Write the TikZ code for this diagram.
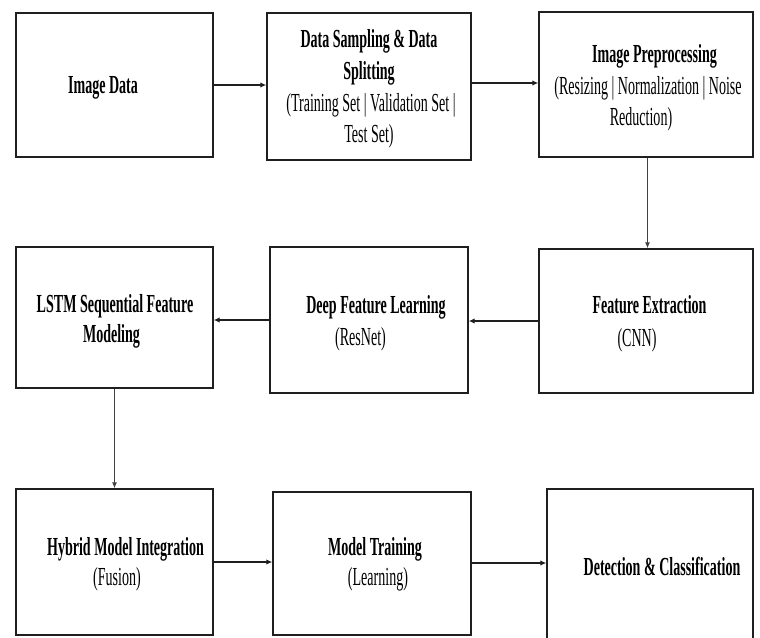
\documentclass[tikz,border=0pt]{standalone}
\usepackage{fontspec}
\setmainfont{Liberation Serif}[FakeStretch=0.54]
\usetikzlibrary{arrows.meta}
\begin{document}
\begin{tikzpicture}[x=1pt,y=-1pt,
  box/.style={draw=black!88, line width=1.4pt, rectangle, inner sep=0pt},
  ttl/.style={font=\bfseries\fontsize{26}{31}\selectfont, anchor=base, inner sep=0pt, text=black},
  sub/.style={font=\fontsize{26}{31}\selectfont, anchor=base, inner sep=0pt, text=black},
  arr/.style={-{Latex[length=6pt,width=5.5pt]}, line width=2pt, draw=black!88},
  varr/.style={-{Latex[length=6pt,width=5pt]}, line width=1pt, draw=black!75}]
\useasboundingbox (0,0) rectangle (760,637);
% boxes
\node[box, minimum width=197pt, minimum height=144pt] (b1) at (114.5,85) {};
\node[box, minimum width=204pt, minimum height=147pt] (b2) at (369,86.5) {};
\node[box, minimum width=214pt, minimum height=145pt] (b3) at (646,84.5) {};
\node[box, minimum width=214pt, minimum height=144pt] (b4) at (646,321) {};
\node[box, minimum width=198pt, minimum height=146pt] (b5) at (369,320) {};
\node[box, minimum width=197pt, minimum height=141pt] (b6) at (114.5,317.5) {};
\node[box, minimum width=197pt, minimum height=146pt] (b7) at (114.5,562) {};
\node[box, minimum width=198pt, minimum height=143pt] (b8) at (372,563.5) {};
\node[box, minimum width=206pt, minimum height=156pt] (b9) at (650,567) {};
% texts
\node[ttl] (t1) at (103,93) {Image Data};
\node[ttl] (t2a) at (369,47) {Data Sampling \& Data};
\node[ttl] (t2b) at (369,79) {Splitting};
\node[sub] (t2c) at (371,111) {(Training Set | Validation Set |};
\node[sub] (t2d) at (369,142) {Test Set)};
\node[ttl] (t3a) at (654.5,62) {Image Preprocessing};
\node[sub] (t3b) at (648,94) {(Resizing | Normalization | Noise};
\node[sub] (t3c) at (641,125) {Reduction)};
\node[ttl] (t4a) at (649.5,313) {Feature Extraction};
\node[sub] (t4b) at (637,346) {(CNN)};
\node[ttl] (t5a) at (376,313) {Deep Feature Learning};
\node[sub] (t5b) at (360.5,345) {(ResNet)};
\node[ttl] (t6a) at (115,312) {LSTM Sequential Feature};
\node[ttl] (t6b) at (111.5,342) {Modeling};
\node[ttl] (t7a) at (125.5,555) {Hybrid Model Integration};
\node[sub] (t7b) at (117,585) {(Fusion)};
\node[ttl] (t8a) at (375,555) {Model Training};
\node[sub] (t8b) at (378,585) {(Learning)};
\node[ttl] (t9) at (662,575) {Detection \& Classification};
% connectors
\draw[arr] (b1.east) -- (b1.east -| b2.west);
\draw[arr] ([yshift=3.5pt]b2.east) -- ([yshift=3.5pt]b2.east -| b3.west);
\draw[varr] ([xshift=1.5pt]b3.south) -- ([xshift=1.5pt]b3.south |- b4.north);
\draw[arr] (b4.west) -- (b4.west -| b5.east);
\draw[arr] (b5.west) -- (b5.west -| b6.east);
\draw[varr] (b6.south) -- (b6.south |- b7.north);
\draw[arr] (b7.east) -- (b7.east -| b8.west);
\draw[arr] ([yshift=0.5pt]b8.east) -- ([yshift=0.5pt]b8.east -| b9.west);
\end{tikzpicture}
\end{document}
